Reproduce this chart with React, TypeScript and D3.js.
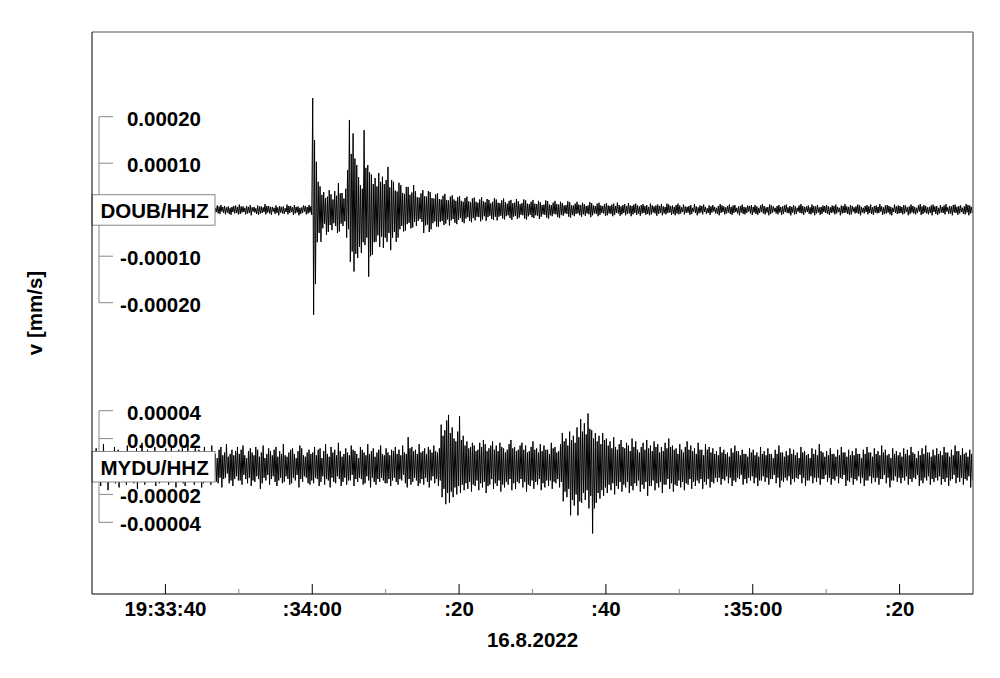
import React from "react";
import * as d3 from "d3";

// time window 16.8.2022 19:33:30 – 19:35:30 UTC, envelope bins of 0.25 s
const START_MS = Date.UTC(2022, 7, 16, 19, 33, 30);
const END_MS = Date.UTC(2022, 7, 16, 19, 35, 30);
const BIN_SEC = 0.25;
const UNIT = 1e-6; // values below are in 1e-6 mm/s

const stations = ["DOUB/HHZ", "MYDU/HHZ"];

// DOUB/HHZ: per-bin max (one row = 10 s)
const doubHi = [
  7,4,9,6,3,6,10,7,5,8, 4,5,9,6,11,8,4,7,8,5, 6,3,10,7,8,5,7,4,12,9, 6,5,8,9,7,3,5,10,9,6,
  4,9,10,6,8,5,7,3,12,8, 6,4,9,7,8,5,5,3,10,7, 8,6,7,4,11,9,6,3,9,7, 10,6,8,5,7,4,6,8,9,6,
  11,7,7,4,8,6,10,5,6,3, 9,7,7,5,12,8,8,6,6,4, 9,5,8,6,7,3,11,8,8,5, 10,6,7,4,5,9,8,6,10,7,
  240,150,103,60, 50,32,38,25, 28,42,33,22, 40,30,57,35, 36,24,45,85, 193,120,164,110, 96,70,53,45, 171,90,96,80, 75,55,68,50, 79,60,71,55,
  64,92,48,64,60,41,39,58,53,36, 34,49,49,32,37,53,40,27,26,35, 42,29,28,40,38,25,24,33,35,23, 22,30,34,21,20,28,31,22,19,27,
  29,19,17,25,28,18,16,24,26,17, 15,22,27,18,16,23,21,14,17,25, 22,15,14,20,24,16,13,19,21,14, 15,23,18,12,14,22,20,13,12,17,
  21,13,12,19,16,10,11,20,18,11, 10,15,19,12,11,17,14,9,10,18, 16,10,9,13,17,11,10,15,12,8, 9,16,14,9,8,13,15,9,8,12,
  14,9,8,11,13,8,15,10,7,10, 12,8,14,9,8,11,13,9,7,10, 12,8,10,6,13,9,7,9,11,8, 12,7,6,13,11,8,9,6,10,13,
  9,5,11,7,6,8,10,4,12,7, 5,9,8,11,6,3,9,7,10,6, 4,8,12,9,7,5,8,11,6,9, 10,4,7,8,11,6,5,9,8,10,
  6,10,7,4,9,12,8,5,6,11, 9,7,4,8,10,6,7,9,11,5, 8,6,10,7,4,9,12,8,6,7, 9,5,11,8,7,10,5,6,9,8,
  10,7,5,9,8,11,6,4,9,8, 12,7,6,10,8,5,7,11,9,6, 4,8,10,7,11,5,8,9,6,12, 7,5,9,10,8,6,4,11,7,9,
  8,6,10,9,5,7,11,8,6,4, 9,12,7,10,8,5,6,9,11,7, 8,4,10,6,9,12,5,8,7,10, 11,6,8,9,4,7,12,10,9,6,
];
// DOUB/HHZ: per-bin min
const doubLo = [
  -6,-9,-4,-8,-10,-5,-7,-11,-8,-3, -9,-6,-5,-10,-7,-8,-12,-6,-4,-9, -8,-7,-11,-5,-6,-9,-10,-4,-7,-8, -5,-12,-9,-6,-8,-3,-10,-7,-6,-9,
  -8,-5,-11,-7,-6,-9,-4,-10,-8,-7, -12,-5,-9,-6,-7,-11,-5,-8,-10,-6, -9,-4,-7,-12,-6,-8,-11,-5,-8,-9, -4,-7,-10,-6,-9,-11,-5,-8,-7,-10,
  -9,-6,-5,-10,-8,-7,-12,-4,-6,-9, -11,-8,-7,-5,-10,-6,-8,-11,-4,-9, -7,-12,-6,-8,-9,-5,-10,-7,-5,-11, -8,-6,-12,-9,-7,-4,-10,-8,-6,-11,
  -226,-160,-70,-50, -69,-40,-30,-54, -48,-33,-44,-29, -35,-50,-47,-30, -35,-25,-60,-42, -112,-90,-133,-95, -104,-80,-93,-70, -76,-60,-144,-100, -97,-70,-69,-55, -80,-58,-82,-60,
  -69,-50,-87,-60,-48,-69,-60,-42,-35,-47, -45,-31,-28,-40,-38,-26,-35,-24,-20,-26, -50,-34,-32,-48,-42,-29,-25,-36,-37,-26, -24,-33,-30,-21,-34,-23,-20,-28,-31,-22,
  -18,-26,-29,-19,-16,-24,-27,-18,-23,-15, -16,-25,-21,-14,-24,-16,-13,-20,-22,-15, -23,-15,-13,-19,-21,-14,-12,-18,-22,-15, -13,-20,-17,-11,-12,-19,-21,-14,-11,-16,
  -18,-12,-13,-20,-15,-10,-11,-17,-19,-12, -14,-9,-10,-16,-18,-11,-13,-8,-9,-15, -17,-11,-14,-9,-8,-12,-15,-10,-13,-8, -10,-16,-12,-8,-9,-14,-11,-7,-8,-13,
  -12,-8,-9,-14,-11,-7,-8,-13,-10,-7, -12,-9,-8,-14,-10,-7,-11,-9,-13,-8, -7,-11,-9,-12,-10,-6,-8,-13,-9,-7, -12,-8,-10,-7,-6,-11,-9,-12,-8,-10,
  -8,-5,-10,-7,-6,-11,-9,-4,-7,-12, -8,-6,-10,-5,-9,-7,-11,-6,-4,-8, -9,-12,-7,-5,-10,-8,-6,-9,-11,-7, -5,-8,-12,-6,-9,-10,-7,-4,-8,-11,
  -6,-9,-11,-7,-5,-8,-10,-6,-12,-9, -7,-4,-8,-10,-6,-11,-9,-5,-7,-8, -12,-6,-10,-9,-4,-7,-8,-11,-6,-5, -9,-10,-7,-12,-8,-6,-11,-9,-5,-7,
  -9,-11,-7,-6,-10,-8,-5,-12,-8,-7, -6,-9,-11,-10,-4,-8,-7,-9,-12,-6, -8,-5,-10,-7,-9,-11,-6,-8,-7,-4, -11,-9,-8,-6,-10,-12,-5,-7,-9,-8,
  -7,-10,-8,-5,-12,-9,-6,-8,-10,-7, -4,-11,-9,-6,-8,-10,-7,-12,-5,-9, -11,-8,-6,-7,-10,-4,-9,-8,-12,-6, -7,-11,-8,-5,-9,-10,-6,-12,-8,-7,
];

// MYDU/HHZ: per-bin max
const myduHi = [
  10,6,13,8,5,8,16,9,11,7, 6,9,14,8,12,7,5,7,9,15, 11,6,9,5,13,8,10,17,7,10, 12,8,6,8,14,9,11,7,6,10,
  13,9,7,15,11,6,9,12,8,13, 10,6,16,9,7,11,13,8,12,6, 9,14,10,7,8,15,11,9,6,12, 14,8,10,16,7,9,12,8,11,14,
  9,12,15,8,6,11,13,10,8,14, 12,7,10,15,6,9,13,11,8,12, 14,7,11,9,16,8,7,10,12,13, 9,6,11,15,13,8,7,10,12,9,
  10,14,8,12,13,6,11,16,9,7, 14,10,12,8,17,11,7,9,13,10, 8,15,12,11,9,6,14,12,10,8, 16,9,11,13,7,10,12,15,9,8,
  13,10,8,12,11,14,9,12,8,15, 10,9,21,13,14,11,12,9,16,10, 11,13,9,14,12,10,15,11,10,13, 30,22,26,33,37,24,28,20,18,25,
  36,19,22,15,18,13,14,17,15,11, 12,17,14,19,16,11,13,15,18,12, 15,11,17,14,13,10,12,16,19,13, 14,11,12,15,17,12,15,10,11,14,
  18,12,13,10,16,11,15,12,12,9, 17,13,14,10,11,16,24,18,20,15, 25,19,22,17,28,21,34,25,31,23, 38,27,26,20,24,18,22,16,24,19,
  20,15,18,13,21,14,12,16,19,14, 13,17,15,11,20,14,18,12,10,14, 17,12,19,13,15,11,18,14,16,10, 14,11,17,13,20,14,15,12,13,9,
  16,12,10,14,18,12,15,11,13,9, 17,12,12,8,16,12,14,10,13,9, 11,8,14,10,12,9,10,7,13,10, 15,11,11,8,12,9,9,7,13,10,
  12,8,10,7,14,9,11,8,13,9, 9,6,12,9,15,10,10,7,11,8, 13,9,12,8,10,6,14,10,11,8, 9,6,13,9,12,8,16,11,10,7,
  11,8,13,9,9,7,12,8,14,10, 10,7,12,8,11,8,13,9,9,6, 12,9,14,10,10,7,13,9,11,8, 15,10,12,8,9,6,13,9,11,8,
  10,7,13,9,12,8,14,10,9,6, 11,8,13,9,15,10,10,7,12,8, 13,9,11,8,14,10,10,7,12,8, 15,11,11,8,13,9,10,7,12,9,
];
// MYDU/HHZ: per-bin min
const myduLo = [
  -11,-7,-8,-5,-14,-9,-10,-6,-17,-10, -9,-6,-12,-8,-15,-9,-10,-6,-13,-8, -9,-5,-12,-7,-16,-10,-10,-6,-13,-8, -8,-5,-11,-7,-14,-9,-12,-8,-10,-6,
  -7,-13,-10,-6,-9,-15,-11,-7,-6,-12, -14,-8,-10,-6,-8,-13,-11,-7,-9,-15, -12,-8,-10,-6,-13,-9,-7,-11,-12,-8, -15,-9,-8,-5,-12,-10,-14,-9,-7,-10,
  -10,-13,-6,-9,-12,-8,-14,-10,-11,-7, -9,-16,-12,-8,-10,-6,-13,-9,-7,-11, -14,-10,-8,-12,-11,-7,-9,-13,-12,-8, -10,-6,-15,-9,-11,-7,-8,-12,-13,-10,
  -12,-8,-9,-14,-11,-7,-13,-9,-10,-15, -8,-11,-12,-7,-9,-14,-11,-8,-13,-10, -10,-6,-14,-9,-11,-8,-9,-13,-12,-7, -10,-15,-8,-11,-13,-9,-11,-8,-10,-12,
  -12,-9,-14,-10,-8,-11,-13,-9,-10,-6, -12,-15,-9,-13,-11,-8,-10,-14,-12,-9, -13,-8,-11,-15,-10,-7,-12,-9,-14,-10, -22,-16,-27,-19,-26,-18,-22,-15,-20,-14,
  -19,-13,-17,-12,-16,-11,-18,-13,-14,-10, -17,-12,-15,-11,-19,-14,-13,-9,-16,-12, -14,-10,-18,-13,-15,-11,-13,-9,-17,-12, -16,-11,-12,-9,-15,-11,-18,-13,-14,-10,
  -16,-11,-13,-9,-17,-12,-15,-10,-14,-10, -16,-11,-12,-9,-15,-11,-25,-18,-22,-16, -35,-24,-28,-20,-35,-25,-26,-19,-24,-17, -30,-21,-48,-30,-26,-19,-23,-17,-21,-15,
  -19,-13,-17,-12,-20,-14,-16,-11,-18,-13, -15,-11,-19,-14,-17,-12,-14,-10,-18,-13, -16,-11,-21,-14,-14,-10,-17,-12,-15,-11, -19,-13,-13,-9,-16,-12,-18,-13,-14,-10,
  -15,-11,-17,-12,-13,-9,-16,-11,-14,-10, -12,-9,-16,-11,-13,-9,-15,-11,-12,-8, -11,-8,-13,-9,-10,-7,-12,-8,-14,-10, -11,-8,-9,-6,-13,-9,-12,-8,-10,-7,
  -12,-8,-14,-10,-10,-7,-11,-8,-13,-9, -9,-6,-12,-8,-15,-10,-11,-8,-10,-7, -13,-9,-11,-8,-9,-6,-12,-8,-14,-10, -10,-7,-12,-8,-11,-8,-13,-9,-9,-6,
  -11,-8,-13,-9,-10,-7,-12,-8,-9,-6, -14,-10,-11,-8,-13,-9,-10,-7,-12,-8, -14,-10,-10,-7,-12,-8,-11,-8,-13,-9, -9,-6,-12,-8,-15,-10,-10,-7,-11,-8,
  -12,-8,-10,-7,-13,-9,-11,-8,-9,-6, -14,-10,-12,-8,-10,-7,-13,-9,-11,-8, -10,-7,-13,-9,-11,-8,-14,-10,-9,-6, -12,-8,-11,-8,-13,-9,-10,-7,-15,-10,
];

const doubTicks = [0.0002, 0.0001, -0.0001, -0.0002];
const doubTickLabels = ["0.00020", "0.00010", "-0.00010", "-0.00020"];
const myduTicks = [0.00004, 0.00002, -0.00002, -0.00004];
const myduTickLabels = ["0.00004", "0.00002", "-0.00002", "-0.00004"];

const xTickLabels = ["19:33:40", ":34:00", ":20", ":40", ":35:00", ":20"];
const dateLabel = "16.8.2022";
const yTitle = "v [mm/s]";

const FONT = "'Liberation Sans', Arial, Helvetica, sans-serif";
const FS = 20.5;

const L = 92, R = 973, T = 32, B = 594;

function envelopePoints(hi: number[], lo: number[]) {
  const pts: [number, number][] = [];
  const n = Math.min(hi.length, lo.length);
  for (let i = 0; i < n; i++) {
    const t0 = START_MS + i * BIN_SEC * 1000;
    pts.push([t0 + BIN_SEC * 250, hi[i] * UNIT]);
    pts.push([t0 + BIN_SEC * 750, lo[i] * UNIT]);
  }
  return pts;
}

export default function App() {
  const x = d3.scaleUtc().domain([new Date(START_MS), new Date(END_MS)]).range([L, R]);
  const yTop = d3.scaleLinear().domain([-0.0002, 0.0002]).range([302.7, 116.7]);
  const yBot = d3.scaleLinear().domain([-0.00004, 0.00004]).range([522.3, 410.7]);

  const allTicks = x.ticks(d3.utcSecond.every(10) as any).filter(
    (d) => d.getTime() > START_MS && d.getTime() < END_MS
  );
  const majors = allTicks.filter((d) => d.getUTCSeconds() % 20 === 0);
  const minors = allTicks.filter((d) => d.getUTCSeconds() % 20 !== 0);

  const traces = [
    { name: stations[0], y: yTop, pts: envelopePoints(doubHi, doubLo), ticks: doubTicks, labels: doubTickLabels },
    { name: stations[1], y: yBot, pts: envelopePoints(myduHi, myduLo), ticks: myduTicks, labels: myduTickLabels },
  ];

  return (
    <svg
      width={1000}
      height={678}
      style={{ position: "absolute", left: 0, top: 0, background: "#fff" }}
      fontFamily={FONT}
    >
      <rect x={0} y={0} width={1000} height={678} fill="#fff" />
      {traces.map((tr, k) => {
        const line = d3
          .line<[number, number]>()
          .x((d) => x(new Date(d[0])))
          .y((d) => tr.y(d[1]));
        const y0 = tr.y(0);
        const yA = tr.y(tr.ticks[0]);
        const yB = tr.y(tr.ticks[tr.ticks.length - 1]);
        return (
          <g key={k}>
            <line x1={99} x2={99} y1={yA} y2={yB} stroke="#888" strokeWidth={1} />
            {tr.ticks.map((v, i) => (
              <g key={i}>
                <line x1={99} x2={113} y1={tr.y(v)} y2={tr.y(v)} stroke="#888" strokeWidth={1} />
                <text x={201} y={tr.y(v) + 9} textAnchor="end" fontSize={FS} fontWeight="bold" fill="#000">
                  {tr.labels[i]}
                </text>
              </g>
            ))}
            <path d={line(tr.pts) || ""} fill="none" stroke="#000" strokeWidth={1} strokeLinejoin="round" />
            <rect x={L} y={y0 - 15} width={123} height={30.5} fill="#fff" stroke="#888" strokeWidth={1} />
            <text x={100.5} y={y0 + 8.5} fontSize={FS} fontWeight="bold" fill="#000">
              {tr.name}
            </text>
          </g>
        );
      })}
      {/* frame */}
      <line x1={L} x2={R} y1={T} y2={T} stroke="#555" strokeWidth={1} />
      <line x1={R} x2={R} y1={T} y2={B} stroke="#777" strokeWidth={1.5} />
      <line x1={L} x2={L} y1={T} y2={B} stroke="#000" strokeWidth={1} />
      <line x1={L} x2={R} y1={B} y2={B} stroke="#000" strokeWidth={1} />
      {/* x ticks */}
      {minors.map((d, i) => (
        <line key={"m" + i} x1={x(d)} x2={x(d)} y1={B - 5} y2={B} stroke="#888" strokeWidth={1} />
      ))}
      {majors.map((d, i) => (
        <g key={"M" + i}>
          <line x1={x(d)} x2={x(d)} y1={B - 10} y2={B} stroke="#000" strokeWidth={1} />
          <text x={x(d)} y={616} textAnchor="middle" fontSize={FS} fontWeight="bold" fill="#000">
            {xTickLabels[i]}
          </text>
        </g>
      ))}
      <text x={(L + R) / 2} y={647} textAnchor="middle" fontSize={FS} fontWeight="bold" fill="#000">
        {dateLabel}
      </text>
      <text
        transform={`translate(42, ${(T + B) / 2}) rotate(-90)`}
        textAnchor="middle"
        fontSize={FS}
        fontWeight="bold"
        fill="#000"
      >
        {yTitle}
      </text>
    </svg>
  );
}
